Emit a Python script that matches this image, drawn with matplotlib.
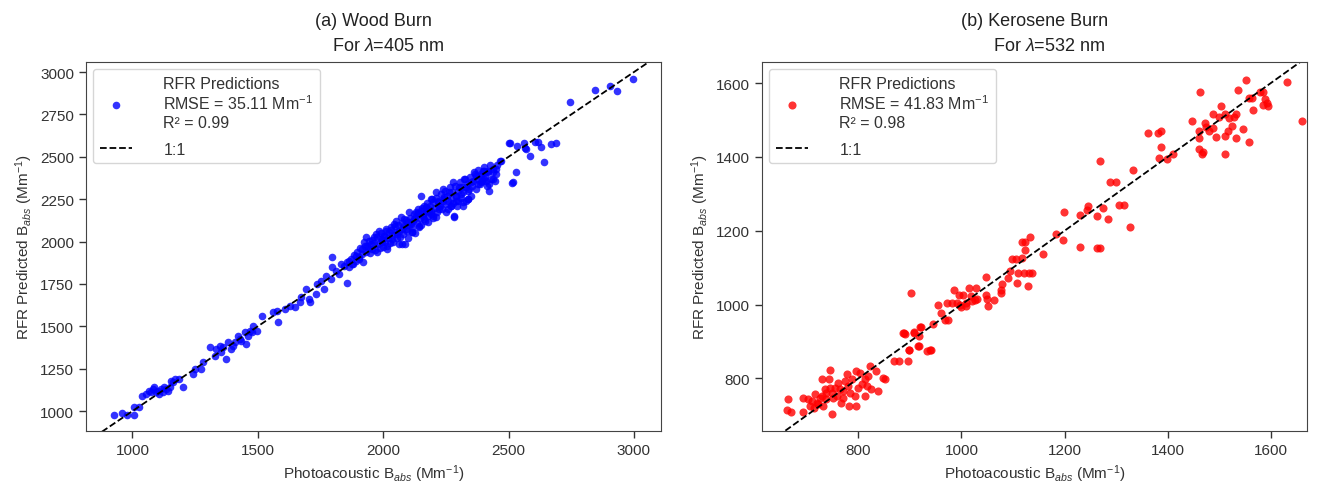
import matplotlib
matplotlib.use("Agg")
import matplotlib.pyplot as plt
import numpy as np

plt.rcParams['font.family'] = ['Liberation Sans', 'DejaVu Sans']
plt.rcParams['mathtext.fontset'] = 'custom'
plt.rcParams['mathtext.rm'] = 'Liberation Sans'
plt.rcParams['mathtext.it'] = 'Liberation Sans:italic'
plt.rcParams['font.size'] = 11

# wood burn, 405 nm (measured, predicted)
wood_x = [925, 959, 979, 1005, 1008, 1028, 1037, 1055, 1068, 1075, 1081, 1088, 1095, 1101, 1108,
          1115, 1121, 1128, 1135, 1141, 1148, 1155, 1161, 1168, 1185, 1201, 1241, 1248, 1275, 1281,
          1308, 1328, 1335, 1348, 1355, 1361, 1375, 1381, 1395, 1401, 1408, 1421, 1428, 1435, 1448,
          1455, 1461, 1468, 1475, 1481, 1495, 1515, 1561, 1575, 1581, 1608, 1628, 1648, 1668, 1671,
          1691, 1704, 1708, 1731, 1737, 1751, 1764, 1771, 1791, 1795, 1797, 1811, 1824, 1831, 1844,
          1857, 1864, 1877, 1891, 1904, 1917, 1924, 1931, 1937, 1944, 1951, 1957, 1964, 1971, 1977,
          1984, 1991, 1997, 2004, 2011, 2017, 2024, 2031, 2037, 2044, 2051, 2057, 2064, 2071, 2077,
          2077, 2084, 2088, 2091, 2097, 2104, 2111, 2111, 2117, 2117, 2124, 2131, 2131, 2137, 2144,
          2144, 2151, 2151, 2157, 2164, 2164, 2171, 2171, 2177, 2184, 2184, 2191, 2191, 2197, 2197,
          2211, 2211, 2217, 2224, 2224, 2237, 2237, 2244, 2251, 2257, 2264, 2271, 2271, 2277, 2281,
          2284, 2291, 2291, 2297, 2304, 2311, 2317, 2317, 2324, 2331, 2337, 2337, 2344, 2351, 2364,
          2371, 2377, 2391, 2391, 2397, 2404, 2404, 2411, 2411, 2417, 2421, 2424, 2437, 2437, 2451,
          2451, 2464, 2468, 2501, 2506, 2515, 2517, 2528, 2533, 2560, 2564, 2568, 2587, 2604, 2617,
          2631, 2640, 2671, 2688, 2747, 2844, 2904, 2931, 2997]
wood_y = [978, 988, 978, 978, 1027, 1027, 1090, 1100, 1120, 1110, 1130, 1140, 1110, 1120, 1100,
          1130, 1110, 1140, 1130, 1120, 1140, 1179, 1169, 1189, 1189, 1140, 1218, 1248, 1248, 1287,
          1376, 1326, 1366, 1385, 1346, 1376, 1307, 1405, 1366, 1385, 1405, 1444, 1425, 1415, 1464,
          1395, 1444, 1474, 1464, 1503, 1474, 1562, 1582, 1592, 1523, 1602, 1621, 1612, 1641, 1671,
          1720, 1661, 1645, 1690, 1749, 1769, 1720, 1798, 1779, 1912, 1848, 1828, 1808, 1867, 1857,
          1755, 1887, 1867, 1916, 1907, 1956, 1995, 2025, 1975, 2005, 1985, 1956, 2025, 2044, 1936,
          2064, 2015, 1995, 2034, 2074, 1975, 2054, 2084, 2015, 2103, 2123, 2044, 1985, 2143, 2074,
          1985, 2133, 1985, 2074, 2113, 2172, 2113, 2103, 2054, 2054, 2133, 2152, 2172, 2192, 2084,
          2093, 2182, 2270, 2152, 2212, 2133, 2202, 2182, 2113, 2172, 2192, 2162, 2251, 2231, 2152,
          2143, 2290, 2231, 2192, 2211, 2241, 2310, 2261, 2172, 2241, 2290, 2211, 2212, 2349, 2148,
          2146, 2241, 2270, 2241, 2320, 2280, 2231, 2211, 2369, 2320, 2251, 2251, 2310, 2349, 2408,
          2388, 2339, 2349, 2388, 2418, 2369, 2418, 2408, 2359, 2418, 2296, 2339, 2369, 2408, 2398,
          2428, 2473, 2474, 2581, 2582, 2345, 2349, 2412, 2562, 2579, 2550, 2546, 2506, 2585, 2585,
          2556, 2467, 2577, 2581, 2821, 2894, 2916, 2886, 2959]

# the packed band between 1850 and 2450
wood_band_x = [1855, 1862, 1870, 1878, 1884, 1890, 1896, 1902, 1908, 1914, 1920, 1926, 1932,
               1940, 1948, 1955, 1962, 1968, 1975, 1980, 1986, 1990, 1994, 2000, 2003, 2008, 2012,
               2015, 2020, 2026, 2030, 2034, 2040, 2046, 2050, 2054, 2060, 2065, 2068, 2074, 2080,
               2085, 2090, 2094, 2100, 2104, 2108, 2114, 2120, 2124, 2128, 2134, 2140, 2146, 2150,
               2155, 2160, 2166, 2170, 2175, 2180, 2186, 2190, 2195, 2200, 2205, 2210, 2214, 2220,
               2226, 2230, 2235, 2240, 2246, 2250, 2255, 2260, 2265, 2270, 2276, 2280, 2286, 2290,
               2295, 2300, 2306, 2310, 2315, 2320, 2326, 2330, 2336, 2340, 2346, 2350, 2356, 2360,
               2366, 2370, 2376, 2380, 2386, 2390, 2396, 2402, 2408, 2414, 2420, 2426, 2432, 2440,
               2446, 2455]
wood_band_y = [1880, 1850, 1900, 1870, 1920, 1885, 1940, 1900, 1960, 1925, 1880, 1975, 1940,
               1960, 1930, 2010, 1990, 1950, 2030, 1985, 1960, 2050, 2010, 1970, 2035, 1995, 2060,
               1955, 2020, 1990, 2070, 2040, 2000, 2090, 2055, 2020, 2100, 2065, 2030, 2110, 2045,
               2090, 2130, 2060, 2020, 2095, 2140, 2080, 2120, 2160, 2050, 2110, 2170, 2140, 2100,
               2200, 2160, 2120, 2190, 2230, 2150, 2210, 2180, 2250, 2140, 2200, 2260, 2175, 2240,
               2210, 2280, 2190, 2250, 2300, 2220, 2270, 2190, 2320, 2250, 2290, 2230, 2330, 2270,
               2210, 2300, 2350, 2260, 2320, 2290, 2370, 2240, 2340, 2300, 2380, 2270, 2330, 2360,
               2400, 2310, 2370, 2420, 2340, 2400, 2360, 2440, 2380, 2330, 2410, 2450, 2370, 2430,
               2360, 2450]

# kerosene burn, 532 nm (measured, predicted)
kero_x = [661, 664, 670, 693, 693, 703, 706, 709, 713, 716, 719, 722, 725, 729, 729, 732, 735, 738,
          738, 742, 745, 745, 748, 749, 751, 754, 758, 761, 764, 767, 771, 771, 774, 777, 780, 781,
          783, 787, 793, 796, 796, 799, 803, 806, 812, 812, 817, 819, 822, 825, 835, 838, 848, 852,
          870, 878, 886, 889, 891, 896, 899, 899, 902, 907, 907, 916, 917, 918, 920, 921, 934, 939,
          941, 944, 955, 961, 968, 972, 973, 981, 986, 992, 995, 998, 999, 1002, 1008, 1008, 1015,
          1018, 1021, 1027, 1029, 1031, 1047, 1047, 1050, 1051, 1063, 1076, 1076, 1079, 1090, 1095,
          1098, 1105, 1108, 1109, 1117, 1117, 1121, 1124, 1124, 1129, 1130, 1133, 1137, 1159, 1184,
          1196, 1198, 1229, 1229, 1244, 1246, 1262, 1263, 1268, 1268, 1275, 1284, 1289, 1299, 1306,
          1316, 1327, 1332, 1361, 1381, 1384, 1387, 1387, 1399, 1411, 1448, 1461, 1461, 1461, 1463,
          1466, 1469, 1472, 1475, 1480, 1487, 1487, 1494, 1499, 1503, 1512, 1512, 1512, 1517, 1519,
          1525, 1528, 1532, 1533, 1537, 1546, 1551, 1557, 1557, 1564, 1566, 1580, 1584, 1584, 1589,
          1593, 1595, 1632, 1660]
kero_y = [713, 743, 710, 748, 709, 743, 725, 739, 721, 757, 734, 730, 748, 797, 752, 725, 770, 743,
          761, 797, 822, 775, 703, 761, 748, 775, 752, 788, 770, 734, 766, 748, 793, 811, 779, 725,
          761, 797, 752, 725, 820, 775, 815, 784, 797, 752, 779, 806, 833, 770, 820, 766, 802, 799,
          847, 847, 923, 923, 921, 847, 878, 877, 1032, 923, 925, 887, 889, 916, 939, 939, 874, 878,
          878, 946, 998, 977, 959, 1004, 959, 1003, 1039, 1004, 1027, 1000, 994, 1027, 995, 1004, 1045,
          1023, 1009, 1013, 1045, 1014, 1075, 1027, 1015, 997, 1011, 1039, 1030, 1057, 1072, 1090,
          1123, 1123, 1059, 1086, 1126, 1169, 1086, 1169, 1147, 1050, 1086, 1183, 1086, 1138, 1192,
          1174, 1250, 1155, 1243, 1257, 1266, 1239, 1152, 1390, 1153, 1261, 1232, 1333, 1333, 1270,
          1270, 1210, 1365, 1466, 1466, 1398, 1471, 1426, 1395, 1408, 1497, 1470, 1451, 1421, 1577,
          1408, 1412, 1493, 1482, 1469, 1516, 1478, 1455, 1509, 1538, 1516, 1457, 1408, 1469, 1505,
          1484, 1507, 1452, 1516, 1581, 1475, 1608, 1441, 1559, 1559, 1527, 1575, 1575, 1541, 1556,
          1545, 1538, 1604, 1498]

panels = [
    {'x': wood_x + wood_band_x, 'y': wood_y + wood_band_y, 'color': 'blue', 's': 30,
     'rmse': '35.11', 'r2': '0.99',
     'title': '(a) Wood Burn\n      For $\\lambda$=405 nm',
     'xlim': (815, 3108), 'ylim': (882, 3059),
     'xticks': [1000, 1500, 2000, 2500, 3000],
     'yticks': [1000, 1250, 1500, 1750, 2000, 2250, 2500, 2750, 3000]},
    {'x': kero_x, 'y': kero_y, 'color': 'red', 's': 34,
     'rmse': '41.83', 'r2': '0.98',
     'title': '(b) Kerosene Burn\n      For $\\lambda$=532 nm',
     'xlim': (613, 1670), 'ylim': (657, 1657),
     'xticks': [800, 1000, 1200, 1400, 1600],
     'yticks': [800, 1000, 1200, 1400, 1600]},
]

fig = plt.figure(figsize=(13.17, 4.85), dpi=100)
positions = [[0.0653, 0.109, 0.4366, 0.761], [0.5786, 0.109, 0.4137, 0.761]]

for pos, p in zip(positions, panels):
    ax = fig.add_axes(pos)
    label = ('RFR Predictions\nRMSE = ' + p['rmse'] + ' Mm$^{-1}$\nR\u00b2 = ' + p['r2'])
    ax.scatter(p['x'], p['y'], s=p['s'], color=p['color'], alpha=0.8, linewidths=0, label=label)
    lo = min(p['xlim'][0], p['ylim'][0])
    hi = max(p['xlim'][1], p['ylim'][1])
    ax.plot([lo, hi], [lo, hi], 'k--', lw=1.3, label='1:1')
    ax.set_xlim(p['xlim'])
    ax.set_ylim(p['ylim'])
    ax.set_xticks(p['xticks'])
    ax.set_yticks(p['yticks'])
    ax.set_xlabel('Photoacoustic B$_{abs}$ (Mm$^{-1}$)', color='#333333')
    ax.set_ylabel('RFR Predicted B$_{abs}$ (Mm$^{-1}$)', color='#333333')
    ax.set_title(p['title'], fontsize=13, color='#222222', linespacing=1.6, pad=9)
    ax.tick_params(colors='#333333', direction='out', length=5, width=1,
                   bottom=True, left=True)
    for sp in ax.spines.values():
        sp.set_color('#444444')
    ax.legend(loc='upper left', fontsize=11.5, labelcolor='#333333',
              labelspacing=0.75, handletextpad=2.0, borderaxespad=0.45)

fig.savefig('out.png', dpi=100)
